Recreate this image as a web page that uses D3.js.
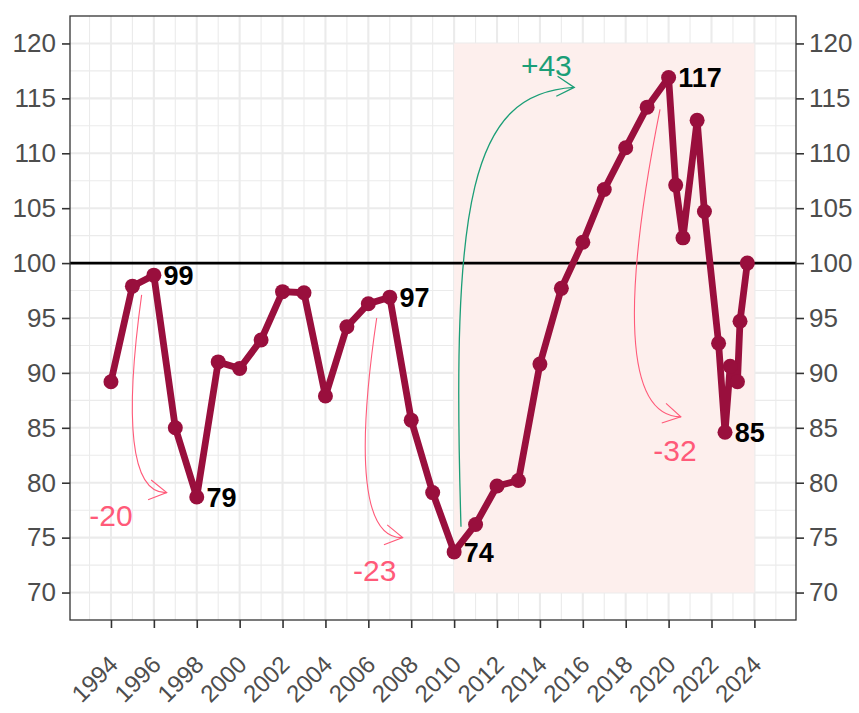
<!DOCTYPE html>
<html>
<head>
<meta charset="utf-8">
<script src="https://cdn.jsdelivr.net/npm/d3@7"></script>
<style>
  html, body { margin: 0; padding: 0; background: #ffffff; }
  svg { display: block; font-family: "Liberation Sans", Arial, Helvetica, sans-serif; }
</style>
</head>
<body>
<svg id="chart" width="859" height="713"></svg>
<script>
// ---------- data ----------
const years = [1994, 1995, 1996, 1997, 1998, 1999, 2000, 2001, 2002, 2003, 2004, 2005, 2006, 2007, 2008, 2009,
  2010, 2011, 2012, 2013, 2014, 2015, 2016, 2017, 2018, 2019, 2020,
  2020.33, 2020.67, 2021.33, 2021.67, 2022.33, 2022.63, 2022.87, 2023.21, 2023.33, 2023.67];
const values = [89.2, 97.9, 98.9, 85.0, 78.7, 91.0, 90.4, 93.0, 97.4, 97.3, 87.9, 94.2, 96.3, 96.9, 85.7, 79.1,
  73.7, 76.2, 79.7, 80.2, 90.8, 97.7, 101.9, 106.7, 110.5, 114.2, 116.9,
  107.1, 102.3, 113.0, 104.7, 92.7, 84.6, 90.6, 89.2, 94.7, 100.0];

// points that carry a value label
const labelYears = [1996, 1998, 2007, 2010, 2020, 2022.63];

// axis ticks
const xTicks = [1994, 1996, 1998, 2000, 2002, 2004, 2006, 2008, 2010, 2012, 2014, 2016, 2018, 2020, 2022, 2024];
const xMinor = [1993, 1995, 1997, 1999, 2001, 2003, 2005, 2007, 2009, 2011, 2013, 2015, 2017, 2019, 2021, 2023, 2025];
const yTicks = [70, 75, 80, 85, 90, 95, 100, 105, 110, 115, 120];
const yMinor = [72.5, 77.5, 82.5, 87.5, 92.5, 97.5, 102.5, 107.5, 112.5, 117.5];

// highlighted period
const shadeX = [2010, 2024];
const shadeY = [70, 120];
const refLine = 100;

// annotation arrows (data units)
const annLabels = ["-20", "-23", "-32", "+43"];
const annStart  = [[1995.43, 97.1], [2006.39, 95.0], [2019.6, 114.0], [2010.32, 76.0]];
const annEnd    = [[1996.6, 79.1], [2007.6, 75.0], [2020.57, 86.0], [2015.6, 116.0]];
const annText   = [[1994.0, 77.0], [2006.3, 72.0], [2020.3, 83.0], [2014.3, 118.0]];

// ---------- style ----------
const colLine = "#990F3D";
const colDown = "#FF5A79";
const colUp = "#1B9E77";
const colShade = "#FDEFED";
const colText = "#4D4D4D";

const svg = d3.select("#chart");
const W = 859, H = 713;
const m = { left: 70, right: 796, top: 16, bottom: 620 };

const x = d3.scaleLinear().domain([1992.09, 2025.94]).range([m.left, m.right]);
const y = d3.scaleLinear().domain([67.5, 122.5]).range([m.bottom, m.top]);

svg.append("rect").attr("width", W).attr("height", H).attr("fill", "#fff");

// grid
const g = svg.append("g");
g.selectAll(".xminor").data(xMinor).join("line")
  .attr("x1", d => x(d)).attr("x2", d => x(d)).attr("y1", m.top).attr("y2", m.bottom)
  .attr("stroke", "#EBEBEB").attr("stroke-width", 1.1);
g.selectAll(".yminor").data(yMinor).join("line")
  .attr("y1", d => y(d)).attr("y2", d => y(d)).attr("x1", m.left).attr("x2", m.right)
  .attr("stroke", "#EBEBEB").attr("stroke-width", 1.1);
g.selectAll(".xmajor").data(xTicks).join("line")
  .attr("x1", d => x(d)).attr("x2", d => x(d)).attr("y1", m.top).attr("y2", m.bottom)
  .attr("stroke", "#EBEBEB").attr("stroke-width", 2.1);
g.selectAll(".ymajor").data(yTicks).join("line")
  .attr("y1", d => y(d)).attr("y2", d => y(d)).attr("x1", m.left).attr("x2", m.right)
  .attr("stroke", "#EBEBEB").attr("stroke-width", 2.1);

// shaded period
svg.append("rect")
  .attr("x", x(shadeX[0])).attr("width", x(shadeX[1]) - x(shadeX[0]))
  .attr("y", y(shadeY[1])).attr("height", y(shadeY[0]) - y(shadeY[1]))
  .attr("fill", colShade);

// reference line
svg.append("line")
  .attr("x1", m.left).attr("x2", m.right).attr("y1", y(refLine)).attr("y2", y(refLine))
  .attr("stroke", "#000").attr("stroke-width", 2.6);

// annotation curves
function curvePath(p0, p1, a1, b1, a2, b2) {
  const dx = p1[0] - p0[0], dy = p1[1] - p0[1];
  const L = Math.hypot(dx, dy);
  const ux = dx / L, uy = dy / L;
  const nx = -uy, ny = ux;
  const c1 = [p0[0] + a1 * L * ux + b1 * L * nx, p0[1] + a1 * L * uy + b1 * L * ny];
  const c2 = [p0[0] + a2 * L * ux + b2 * L * nx, p0[1] + a2 * L * uy + b2 * L * ny];
  return { c1, c2 };
}
const ag = svg.append("g").attr("fill", "none");
annLabels.forEach((lab, i) => {
  const up = lab.startsWith("+");
  const col = up ? colUp : colDown;
  const p0 = [x(annStart[i][0]), y(annStart[i][1])];
  const p1 = [x(annEnd[i][0]), y(annEnd[i][1])];
  const cp = up ? curvePath(p0, p1, 0.69, -0.20, 0.93, -0.22)
                : curvePath(p0, p1, 0.61, 0.165, 0.985, 0.183);
  const path = d3.path();
  path.moveTo(p0[0], p0[1]);
  path.bezierCurveTo(cp.c1[0], cp.c1[1], cp.c2[0], cp.c2[1], p1[0], p1[1]);
  ag.append("path").attr("d", path.toString()).attr("stroke", col).attr("stroke-width", up ? 1.3 : 1.1);
  // arrow head (open)
  let tx = p1[0] - cp.c2[0], ty = p1[1] - cp.c2[1];
  const ang = Math.atan2(ty, tx) + (up ? 0.12 : 0.2);
  const len = 20, spread = Math.PI / 6;
  const hp = d3.path();
  hp.moveTo(p1[0] - len * Math.cos(ang - spread), p1[1] - len * Math.sin(ang - spread));
  hp.lineTo(p1[0], p1[1]);
  hp.lineTo(p1[0] - len * Math.cos(ang + spread), p1[1] - len * Math.sin(ang + spread));
  ag.append("path").attr("d", hp.toString()).attr("stroke", col).attr("stroke-width", up ? 1.3 : 1.1);
  svg.append("text")
    .attr("x", x(annText[i][0])).attr("y", y(annText[i][1]))
    .attr("dy", "0.36em").attr("text-anchor", "middle")
    .attr("font-size", 30).attr("fill", col).text(lab);
});

// series
const data = years.map((yr, i) => ({ yr, v: values[i] }));
svg.append("path").datum(data)
  .attr("d", d3.line().x(d => x(d.yr)).y(d => y(d.v)))
  .attr("fill", "none").attr("stroke", colLine).attr("stroke-width", 6.8)
  .attr("stroke-linejoin", "round").attr("stroke-linecap", "round");
svg.selectAll(".pt").data(data).join("circle")
  .attr("cx", d => x(d.yr)).attr("cy", d => y(d.v)).attr("r", 7.5).attr("fill", colLine);

// value labels
svg.selectAll(".vl").data(data.filter(d => labelYears.includes(d.yr))).join("text")
  .attr("x", d => x(d.yr + 0.45)).attr("y", d => y(d.v)).attr("dy", "0.36em")
  .attr("font-size", 27).attr("font-weight", "bold").attr("fill", "#000")
  .text(d => Math.round(d.v));

// panel border
svg.append("rect").attr("x", m.left).attr("y", m.top)
  .attr("width", m.right - m.left).attr("height", m.bottom - m.top)
  .attr("fill", "none").attr("stroke", "#333333").attr("stroke-width", 1.3);

// axes
const axL = svg.append("g").attr("transform", `translate(${m.left},0)`)
  .call(d3.axisLeft(y).tickValues(yTicks).tickSize(8).tickPadding(6));
const axR = svg.append("g").attr("transform", `translate(${m.right},0)`)
  .call(d3.axisRight(y).tickValues(yTicks).tickSize(8).tickPadding(5));
const axB = svg.append("g").attr("transform", `translate(0,${m.bottom})`)
  .call(d3.axisBottom(x).tickValues(xTicks).tickFormat(d3.format("d")).tickSize(8));
[axL, axR, axB].forEach(a => {
  a.select(".domain").remove();
  a.selectAll(".tick line").attr("stroke", "#333333").attr("stroke-width", 1.6);
  a.selectAll("text").attr("fill", colText).attr("font-size", 26)
    .attr("font-family", "'Liberation Sans', Arial, sans-serif");
});
axB.selectAll("text")
  .attr("font-size", 24)
  .attr("text-anchor", "end")
  .attr("y", 0).attr("dy", 0)
  .attr("transform", "translate(8,46) rotate(-45)");
</script>
</body>
</html>
